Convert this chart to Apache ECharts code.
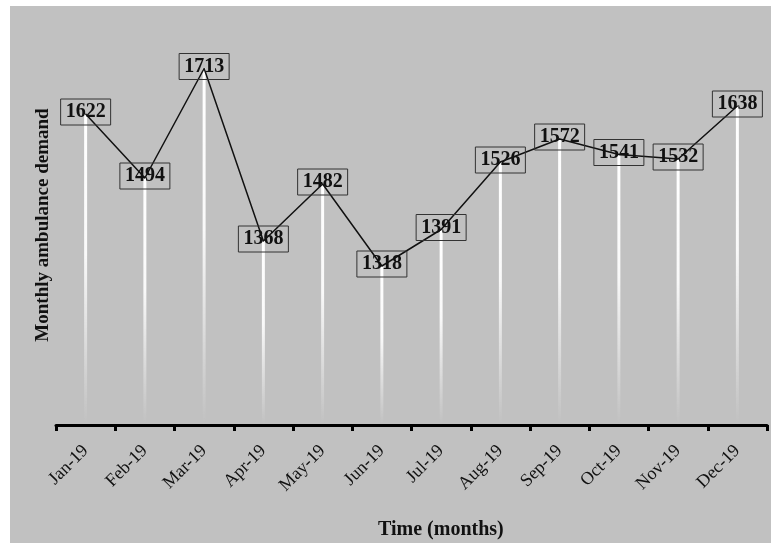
<!DOCTYPE html>
<html>
<head>
<meta charset="utf-8">
<script src="https://cdn.jsdelivr.net/npm/echarts@6/dist/echarts.min.js"></script>
<style>
  html, body { margin: 0; padding: 0; background: #ffffff; }
  #panel { position: absolute; left: 10px; top: 6px; width: 761px; height: 537px; background: #c1c1c1; }
  #chart { position: absolute; left: 0; top: 0; width: 771px; height: 543px; }
</style>
</head>
<body>
<div id="panel"></div>
<div id="chart"></div>
<script>
// Monthly ambulance demand, 2019
const months = ['Jan-19', 'Feb-19', 'Mar-19', 'Apr-19', 'May-19', 'Jun-19',
                'Jul-19', 'Aug-19', 'Sep-19', 'Oct-19', 'Nov-19', 'Dec-19'];
const demand = [1622, 1494, 1713, 1368, 1482, 1318, 1391, 1526, 1572, 1541, 1532, 1638];

const serif = '"Liberation Serif", "Times New Roman", serif';

const chart = echarts.init(document.getElementById('chart'), null, { renderer: 'canvas' });

chart.setOption({
  backgroundColor: 'transparent',
  animation: false,
  grid: { left: 56, right: 4, top: 25, bottom: 118 },
  xAxis: {
    type: 'category',
    data: months,
    boundaryGap: true,
    axisLine: { show: true, lineStyle: { color: '#000', width: 3 } },
    axisTick: { show: true, length: 6, lineStyle: { color: '#000', width: 3 } },
    axisLabel: {
      rotate: 45,
      margin: 23,
      color: '#111',
      fontFamily: serif,
      fontSize: 18
    },
    splitLine: { show: false }
  },
  yAxis: {
    type: 'value',
    min: 1000,
    max: 1800,
    name: 'Monthly ambulance demand',
    nameLocation: 'middle',
    nameGap: 3,
    nameTextStyle: { fontFamily: serif, fontWeight: 'bold', fontSize: 19, color: '#111' },
    axisLine: { show: false },
    axisTick: { show: false },
    axisLabel: { show: false },
    splitLine: { show: false }
  },
  graphic: [{
    type: 'text',
    left: 378,
    top: 520,
    style: {
      text: 'Time (months)',
      font: 'bold 20px ' + serif,
      fill: '#111'
    }
  }],
  series: [
    {
      // fading white drop lines under each point
      type: 'bar',
      data: demand,
      barWidth: 3,
      z: 1,
      itemStyle: {
        color: new echarts.graphic.LinearGradient(0, 0, 0, 1, [
          { offset: 0, color: 'rgba(255,255,255,1)' },
          { offset: 0.45, color: 'rgba(255,255,255,0.9)' },
          { offset: 1, color: 'rgba(255,255,255,0)' }
        ])
      }
    },
    {
      type: 'line',
      data: demand,
      z: 3,
      symbol: 'circle',
      symbolSize: 1,
      itemStyle: { color: '#111' },
      lineStyle: { color: '#111', width: 1.5 },
      label: {
        show: true,
        position: 'inside',
        offset: [0, -2],
        fontFamily: serif,
        fontWeight: 'bold',
        fontSize: 20,
        color: '#111',
        borderColor: '#333',
        borderWidth: 1,
        padding: [4, 5, 2, 5]
      }
    }
  ]
});
</script>
</body>
</html>
